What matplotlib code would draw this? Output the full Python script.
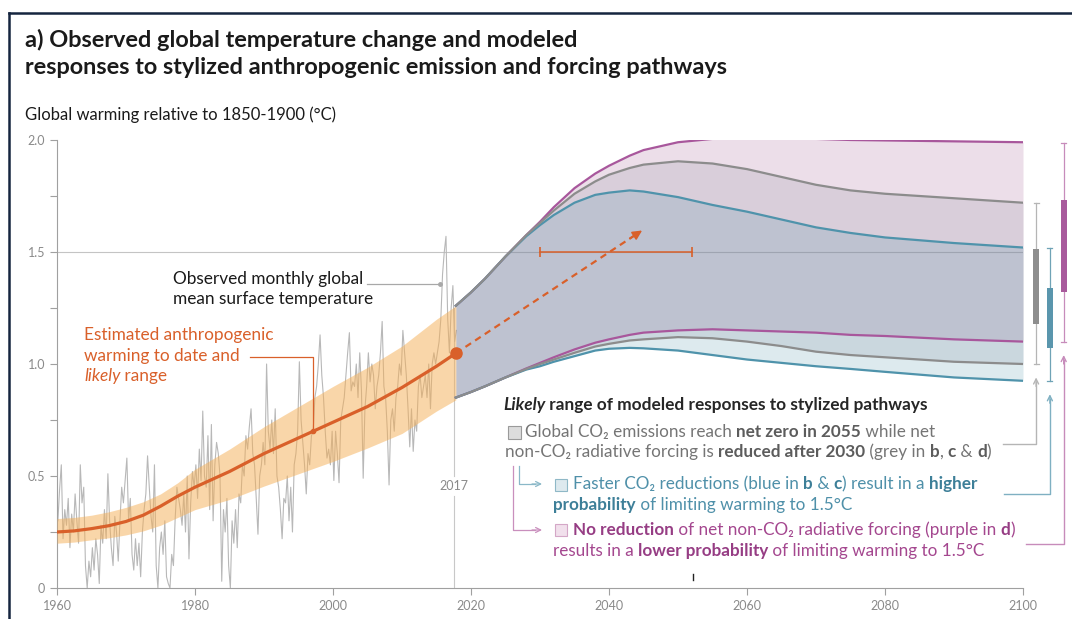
import matplotlib
matplotlib.use('Agg')
import matplotlib.pyplot as plt
from matplotlib.patches import Rectangle
from matplotlib.lines import Line2D
import numpy as np

FONT = ['Lato', 'DejaVu Sans']
plt.rcParams['font.family'] = FONT

W, H = 1072, 619

# observed monthly GMST at ~4 points per year, 1960-2017
obs_start = 1960
obs_values = [
    0.30, 0.44, 0.55, 0.22, 0.35, 0.28, 0.40, 0.18, 0.33, 0.25, 0.42, 0.30,
    0.20, 0.55, 0.38, 0.45, 0.10, 0.00, 0.12, 0.05, 0.18, 0.08, 0.22, 0.15,
    0.02, 0.28, 0.20, 0.35, 0.22, 0.51, 0.30, 0.18, 0.10, 0.32, 0.25, 0.12,
    0.30, 0.45, 0.38, 0.48, 0.58, 0.30, 0.40, 0.15, 0.08, 0.22, 0.10, 0.20,
    0.05, 0.25, 0.35, 0.42, 0.59, 0.45, 0.32, 0.25, 0.55, 0.10, 0.00, 0.18,
    0.25, 0.15, 0.30, 0.05, 0.02, 0.00, 0.15, 0.10, 0.31, 0.45, 0.40, 0.35,
    0.28, 0.42, 0.25, 0.50, 0.13, 0.38, 0.52, 0.45, 0.55, 0.40, 0.62, 0.48,
    0.79, 0.50, 0.45, 0.68, 0.35, 0.73, 0.30, 0.55, 0.65, 0.60, 0.50, 0.03,
    0.35, 0.25, 0.40, 0.10, 0.00, 0.30, 0.20, 0.35, 0.18, 0.42, 0.38, 0.55,
    0.50, 0.68, 0.62, 0.72, 0.80, 0.60, 0.55, 0.40, 0.24, 0.50, 0.55, 0.65,
    0.55, 1.00, 0.70, 0.62, 0.75, 0.60, 0.80, 0.50, 0.45, 0.35, 0.22, 0.40,
    0.38, 0.50, 0.30, 0.45, 0.25, 0.55, 0.60, 0.70, 1.01, 0.75, 0.65, 0.55,
    0.42, 0.60, 0.55, 0.68, 0.70, 0.85, 0.90, 1.00, 1.13, 0.95, 0.85, 0.70,
    0.58, 0.62, 0.55, 0.70, 0.48, 0.70, 0.60, 0.47, 0.75, 0.80, 0.85, 0.95,
    1.05, 1.14, 0.88, 0.92, 0.90, 1.00, 0.85, 1.05, 0.88, 0.49, 0.80, 0.90,
    1.05, 0.92, 1.00, 0.95, 0.80, 0.90, 0.95, 1.05, 1.19, 0.90, 0.85, 0.70,
    0.46, 0.75, 0.80, 0.70, 0.85, 0.90, 1.00, 0.95, 1.15, 1.05, 0.95, 0.80,
    0.63, 0.80, 0.61, 0.75, 0.70, 0.90, 0.95, 0.85, 0.90, 0.95, 0.85, 1.00,
    0.80, 1.00, 1.05, 1.00, 1.05, 1.10, 1.20, 1.40, 1.50, 1.57, 1.20, 1.05,
    1.25, 1.35, 1.10, 1.15,
]

# estimated anthropogenic warming and likely range
anthro_years = [1960, 1962.5, 1965, 1967.5, 1970, 1972.5, 1975, 1977.5, 1980, 1985, 1990,
                1995, 2000, 2005, 2010, 2015, 2017.8]
anthro_mid = [0.25, 0.255, 0.265, 0.278, 0.297, 0.325, 0.365, 0.41, 0.45, 0.52, 0.60,
              0.67, 0.74, 0.81, 0.895, 0.99, 1.048]
anthro_low = [0.20, 0.205, 0.215, 0.224, 0.237, 0.255, 0.28, 0.315, 0.35, 0.395, 0.455,
              0.51, 0.565, 0.625, 0.69, 0.79, 0.84]
anthro_high = [0.31, 0.315, 0.325, 0.34, 0.36, 0.385, 0.42, 0.47, 0.53, 0.62, 0.72,
               0.81, 0.90, 0.985, 1.08, 1.20, 1.26]

# likely ranges of modeled responses
path_years = [2017.8, 2020, 2022, 2025, 2028, 2030, 2032, 2035, 2038, 2040, 2043,
              2045, 2050, 2055, 2060, 2065, 2070, 2075, 2080, 2090, 2100]
purple_upper = [1.26, 1.32, 1.38, 1.48, 1.575, 1.635, 1.70, 1.785, 1.85, 1.885, 1.93,
                1.955, 1.99, 2.005, 2.01, 2.008, 2.005, 2.0, 1.998, 1.994, 1.99]
grey_upper = [1.26, 1.32, 1.38, 1.48, 1.575, 1.63, 1.685, 1.76, 1.815, 1.845, 1.875,
              1.89, 1.905, 1.895, 1.87, 1.835, 1.80, 1.775, 1.76, 1.74, 1.72]
blue_upper = [1.26, 1.32, 1.38, 1.48, 1.57, 1.62, 1.665, 1.72, 1.755, 1.765, 1.775,
              1.77, 1.745, 1.71, 1.68, 1.645, 1.61, 1.585, 1.565, 1.54, 1.52]
purple_lower = [0.85, 0.875, 0.90, 0.94, 0.98, 1.005, 1.03, 1.065, 1.095, 1.11, 1.13,
                1.14, 1.15, 1.155, 1.15, 1.145, 1.14, 1.13, 1.125, 1.11, 1.10]
grey_lower = [0.85, 0.875, 0.90, 0.94, 0.978, 1.00, 1.02, 1.05, 1.078, 1.09, 1.105,
              1.11, 1.12, 1.115, 1.10, 1.08, 1.055, 1.04, 1.03, 1.01, 1.00]
blue_lower = [0.85, 0.875, 0.90, 0.94, 0.975, 0.99, 1.01, 1.035, 1.06, 1.068, 1.072,
              1.07, 1.06, 1.04, 1.02, 1.005, 0.99, 0.978, 0.965, 0.94, 0.925]

# 2100 ranges shown as bars right of the plot: (whisker low, box low, box high, whisker high)
bar_names = ['grey', 'blue', 'purple']
bar_x = [2101.9, 2103.9, 2105.9]
bar_stats = [[1.00, 1.18, 1.515, 1.72],
             [0.925, 1.07, 1.34, 1.52],
             [1.10, 1.32, 1.73, 1.985]]

# current trend towards 1.5 and the years it is reached
trend_x = [2017.8, 2044.5]
trend_y = [1.048, 1.59]
reach_years = [2030, 2052]
reach_level = 1.5

ORANGE = '#d9602a'
BAND = '#f5af55'
PURPLE = '#a8579c'
GREY = '#8c8c8c'
BLUE = '#4f93ab'
TICK = '#8a8a8a'

TITLE_FS = 16.9
LABEL_FS = 12
NOTE_FS = 12.4
LEG_FS = 12.3


def px(x, y):
    return x / W, 1 - y / H


def rich(fig, x, y, pieces, size):
    # draw a line of text made of (text, weight, style, colour) pieces
    renderer = fig.canvas.get_renderer()
    for text, weight, style, colour in pieces:
        t = fig.text(*px(x, y), text, fontsize=size, fontweight=weight, fontstyle=style,
                     color=colour, va='baseline', ha='left', family=FONT)
        x += t.get_window_extent(renderer).width
    return x


fig = plt.figure(figsize=(W / 100, H / 100), dpi=100)
ax = fig.add_axes([57 / W, 1 - 588 / H, (1023 - 57) / W, (588 - 140) / H])

# outer frame
fig.add_artist(Line2D([9 / W, 1], [1 - 13 / H, 1 - 13 / H], color='#15253f', lw=1.8))
fig.add_artist(Line2D([9 / W, 9 / W], [0, 1 - 13 / H], color='#15253f', lw=1.8))

ax.set_xlim(1960, 2100)
ax.set_ylim(0, 2.0)
for s in ['top', 'right']:
    ax.spines[s].set_visible(False)
for s in ['left', 'bottom']:
    ax.spines[s].set_color('#a0a0a0')
    ax.spines[s].set_linewidth(0.8)
ax.set_yticks(np.arange(0, 2.01, 0.25))
ax.set_yticklabels(['0', '', '0.5', '', '1.0', '', '1.5', '', '2.0'])
ax.set_xticks(range(1960, 2101, 20))
ax.tick_params(colors='#a0a0a0', labelcolor=TICK, labelsize=9, length=5, width=0.8)
ax.patch.set_alpha(0)

ax.axhline(1.5, color='#c4c4c4', lw=0.8, zorder=1)

# 2017 marker line
ax.plot([2017.5, 2017.5], [0, 0.41], color='#c8c8c8', lw=0.8, zorder=1)
ax.plot([2017.5, 2017.5], [0.50, 1.25], color='#c8c8c8', lw=0.8, zorder=1)
ax.text(2017.5, 0.455, '2017', color=TICK, fontsize=9, ha='center', va='center')

# observed
obs_t = obs_start + (np.arange(len(obs_values)) + 0.5) / 4
ax.plot(obs_t, obs_values, color='#b8b8b8', lw=0.8, zorder=2)

# anthropogenic warming
ax.fill_between(anthro_years, anthro_low, anthro_high, color=BAND, alpha=0.5, lw=0, zorder=3)
ax.plot(anthro_years, anthro_mid, color=ORANGE, lw=2.3, zorder=4, solid_capstyle='round')
ax.plot(anthro_years[-1], anthro_mid[-1], 'o', color=ORANGE, ms=8, zorder=5)

# modeled pathways
ax.fill_between(path_years, purple_lower, purple_upper, color='#a05a91', alpha=0.2, lw=0, zorder=2)
ax.fill_between(path_years, grey_lower, grey_upper, color='#8d909e', alpha=0.2, lw=0, zorder=2)
ax.fill_between(path_years, blue_lower, blue_upper, color='#5596aa', alpha=0.2, lw=0, zorder=2)
for lo, hi, c in [(purple_lower, purple_upper, PURPLE), (blue_lower, blue_upper, BLUE),
                  (grey_lower, grey_upper, GREY)]:
    ax.plot(path_years, hi, color=c, lw=1.6, zorder=3)
    ax.plot(path_years, lo, color=c, lw=1.6, zorder=3)

# trend arrow and range of years reaching 1.5
ax.plot(trend_x, trend_y, color=ORANGE, lw=1.6, ls=(0, (3, 2.2)), zorder=5)
ax.annotate('', xy=(trend_x[1] + 0.3, trend_y[1] + 0.006), xytext=(trend_x[1] - 1.5, trend_y[1] - 0.03),
            arrowprops=dict(arrowstyle='-|>', color=ORANGE, lw=1.2, mutation_scale=14,
                            shrinkA=0, shrinkB=0), zorder=5)
ax.plot(reach_years, [reach_level, reach_level], color=ORANGE, lw=1.1, zorder=5)
ax.plot(reach_years, [reach_level, reach_level], ls='none', marker='|', ms=7, mew=1.2,
        color=ORANGE, zorder=5)

# 2100 range bars
bar_colors = {'grey': ('#8e8e8e', '#b5b5b5'), 'blue': ('#5a96ad', '#6fa3b6'),
              'purple': ('#a85a9c', '#c78cbb')}
for name, x, (wl, bl, bh, wh) in zip(bar_names, bar_x, bar_stats):
    box_c, wh_c = bar_colors[name]
    ax.plot([x, x], [wl, wh], color=wh_c, lw=0.9, clip_on=False)
    ax.plot([x - 0.35, x + 0.35], [wl, wl], color=wh_c, lw=0.9, clip_on=False)
    ax.plot([x - 0.35, x + 0.35], [wh, wh], color=wh_c, lw=0.9, clip_on=False)
    ax.add_patch(Rectangle((x - 0.45, bl), 0.9, bh - bl, color=box_c, lw=0, clip_on=False, zorder=4))

# connectors from the legend to the bars
to_data = lambda p: 1960 + (p - 57) / 6.9
conn_start = [to_data(1003), to_data(1004), to_data(1026)]
conn_level = [0.644, 0.42, 0.196]
conn_col = ['#b5b5b5', '#7fb0c2', '#c78cbb']
for x0, y0, x, st, c in zip(conn_start, conn_level, bar_x, bar_stats, conn_col):
    ax.plot([x0, x, x], [y0, y0, st[0] - 0.08], color=c, lw=1.0, clip_on=False)
    ax.annotate('', xy=(x, st[0] - 0.06), xytext=(x, st[0] - 0.1),
                arrowprops=dict(arrowstyle='->', color=c, lw=1.0, shrinkA=0, shrinkB=0,
                                mutation_scale=9), annotation_clip=False)

# annotation connectors
ax.plot([2004.9, 2015.5], [1.357, 1.357], color='#a8a8a8', lw=0.9, zorder=6)
ax.plot(2015.5, 1.357, 'o', color='#a8a8a8', ms=2.5, zorder=6)
mark_year = 1997.1
mark_val = np.interp(mark_year, anthro_years, anthro_mid)
ax.plot([1988.0, mark_year, mark_year], [1.03, 1.03, mark_val], color=ORANGE, lw=0.9, zorder=6)
ax.plot(mark_year, mark_val, 'o', color=ORANGE, ms=3, zorder=6)

# title and axis label
fig.text(*px(25, 40), 'a) Observed global temperature change and modeled', fontsize=TITLE_FS,
         fontweight='bold', color='#1a1a1a', va='center')
fig.text(*px(25, 67), 'responses to stylized anthropogenic emission and forcing pathways', fontsize=TITLE_FS,
         fontweight='bold', color='#1a1a1a', va='center')
fig.text(*px(25, 115), 'Global warming relative to 1850-1900 (°C)', fontsize=LABEL_FS, color='#1a1a1a',
         va='center')

# text annotations
fig.text(*px(173, 279), 'Observed monthly global', fontsize=NOTE_FS, color='#1a1a1a', va='center')
fig.text(*px(173, 299), 'mean surface temperature', fontsize=NOTE_FS, color='#1a1a1a', va='center')
fig.text(*px(84, 335), 'Estimated anthropogenic', fontsize=NOTE_FS, color=ORANGE, va='center')
fig.text(*px(84, 356), 'warming to date and', fontsize=NOTE_FS, color=ORANGE, va='center')
rich(fig, 84, 381, [('likely', 'normal', 'italic', ORANGE), (' range', 'normal', 'normal', ORANGE)], NOTE_FS)

# legend block
fs = LEG_FS
DARK = '#262626'
rich(fig, 503, 410, [('Likely', 'bold', 'italic', DARK),
                     (' range of modeled responses to stylized pathways', 'bold', 'normal', DARK)], 12.45)

GT, GB = '#757575', '#5c5c5c'
fig.add_artist(Rectangle(px(508, 439), 13 / W, 13 / H, facecolor='#dcdcdc', edgecolor='#9a9a9a', lw=0.8))
rich(fig, 525, 437, [('Global CO₂ emissions reach ', 'normal', 'normal', GT),
                     ('net zero in 2055', 'bold', 'normal', GB),
                     (' while net', 'normal', 'normal', GT)], fs)
rich(fig, 505, 457, [('non-CO₂ radiative forcing is ', 'normal', 'normal', GT),
                     ('reduced after 2030', 'bold', 'normal', GB),
                     (' (grey in ', 'normal', 'normal', GT), ('b', 'bold', 'normal', GB),
                     (', ', 'normal', 'normal', GT), ('c', 'bold', 'normal', GB),
                     (' & ', 'normal', 'normal', GT), ('d', 'bold', 'normal', GB),
                     (')', 'normal', 'normal', GT)], fs)

BT, BB = '#4f90a9', '#3d7f98'
fig.add_artist(Rectangle(px(555, 491), 12 / W, 12 / H, facecolor='#dde9ee', edgecolor='#8fb8c7', lw=0.8))
rich(fig, 573, 489, [('Faster CO₂ reductions (blue in ', 'normal', 'normal', BT),
                     ('b', 'bold', 'normal', BB), (' & ', 'normal', 'normal', BT),
                     ('c', 'bold', 'normal', BB), (') result in a ', 'normal', 'normal', BT),
                     ('higher', 'bold', 'normal', BB)], fs)
rich(fig, 553, 510, [('probability', 'bold', 'normal', BB),
                     (' of limiting warming to 1.5°C', 'normal', 'normal', BT)], fs)

PT, PB = '#a4478f', '#963d84'
fig.add_artist(Rectangle(px(555, 536), 12 / W, 12 / H, facecolor='#f1e0ec', edgecolor='#d4a7c7', lw=0.8))
rich(fig, 573, 535, [('No reduction', 'bold', 'normal', PB),
                     (' of net non-CO₂ radiative forcing (purple in ', 'normal', 'normal', PT),
                     ('d', 'bold', 'normal', PB), (')', 'normal', 'normal', PT)], fs)
rich(fig, 553, 556, [('results in a ', 'normal', 'normal', PT),
                     ('lower probability', 'bold', 'normal', PB),
                     (' of limiting warming to 1.5°C', 'normal', 'normal', PT)], fs)

# legend arrows
fig.add_artist(Line2D(*zip(px(518.5, 466), px(518.5, 484), px(535, 484)), color='#8ab8c8', lw=0.9))
fig.add_artist(Line2D(*zip(px(512.5, 466), px(512.5, 530), px(535, 530)), color='#c98fbd', lw=0.9))
for yy, c in [(484, '#8ab8c8'), (530, '#c98fbd')]:
    fig.add_artist(plt.Annotation('', xy=px(542, yy), xytext=px(532, yy), xycoords='figure fraction',
                                  arrowprops=dict(arrowstyle='->', color=c, lw=0.9, shrinkA=0,
                                                  shrinkB=0, mutation_scale=9)))

fig.add_artist(Line2D(*zip(px(693, 574), px(693, 580)), color='#222222', lw=1))

fig.savefig('out.png', dpi=100)
